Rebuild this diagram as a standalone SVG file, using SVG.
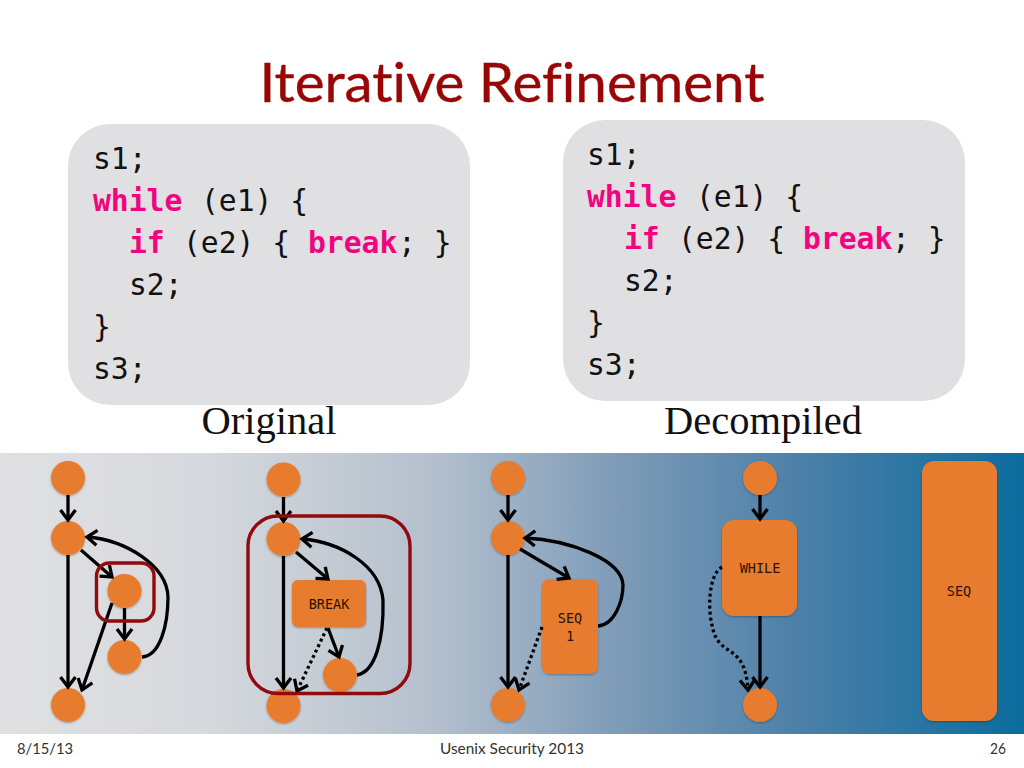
<svg xmlns="http://www.w3.org/2000/svg" width="1024" height="768" viewBox="0 0 1024 768">
<style>
.code{font-family:"DejaVu Sans Mono","Liberation Mono",monospace;font-size:29.7px;fill:#111}
.kw{fill:#f0047f;font-weight:bold}
.cap{font-family:"Liberation Serif",serif;font-size:40.500px;fill:#111;text-anchor:middle}
.foot{font-family:Lato,"Noto Sans",sans-serif;font-size:15px;fill:#333}
.lab{font-family:"DejaVu Sans Mono","Liberation Mono",monospace;font-size:13.500px;fill:#2a1205;text-anchor:middle}
.n{fill:#e87b2f;filter:url(#sh)}
.box{fill:#e0dfe1}
.red{fill:none;stroke:#900a0e;stroke-width:3.400}
.e{fill:none;stroke:#000;stroke-width:3.300;marker-end:url(#ah)}
.d{stroke-dasharray:3 3}
</style>
<defs>
<linearGradient id="bg" x1="0" x2="1" y1="0" y2="0">
<stop offset="0" stop-color="#e0e0e2"/>
<stop offset="0.2" stop-color="#d6d9dd"/>
<stop offset="0.42" stop-color="#b5c0cd"/>
<stop offset="0.6" stop-color="#7f9cb8"/>
<stop offset="0.78" stop-color="#4c80a8"/>
<stop offset="1" stop-color="#0b6c9e"/>
</linearGradient>
<filter id="sh" x="-15%" y="-15%" width="130%" height="130%"><feDropShadow dx="0" dy="1" stdDeviation="1" flood-color="#000" flood-opacity="0.3"/></filter>
<marker id="ah" markerUnits="userSpaceOnUse" markerWidth="20" markerHeight="20" refX="14" refY="10" orient="auto" overflow="visible">
<path d="M4 2.500 L14 10 L4 17.500" fill="none" stroke="#000" stroke-width="3.300" stroke-dasharray="none"/>
</marker>
</defs>
<rect width="1024" height="768" fill="#fff"/>
<text id="title" x="512" y="102" text-anchor="middle" textLength="505" lengthAdjust="spacingAndGlyphs" font-family="Lato,'Noto Sans',sans-serif" font-size="54" fill="#990606" stroke="#990606" stroke-width="0.4" style="font-variant-ligatures:none">Iterative Refinement</text>
<g id="code-original">
<rect class="box" x="68" y="124" width="402" height="281" rx="42"/>
<text class="code" x="93" y="169">s1;</text>
<text class="code" y="211"><tspan x="93" class="kw">while</tspan><tspan x="201">(e1) {</tspan></text>
<text class="code" y="253"><tspan x="129" class="kw">if</tspan><tspan x="183">(e2) {</tspan><tspan x="308" class="kw">break</tspan><tspan x="398">; }</tspan></text>
<text class="code" x="129" y="295">s2;</text>
<text class="code" x="93" y="337">}</text>
<text class="code" x="93" y="379">s3;</text>
</g>
<text id="cap-original" class="cap" x="269" y="434">Original</text>
<g id="code-decompiled">
<rect class="box" x="563" y="120" width="402" height="281" rx="42"/>
<text class="code" x="587" y="165">s1;</text>
<text class="code" y="207"><tspan x="587" class="kw">while</tspan><tspan x="696">(e1) {</tspan></text>
<text class="code" y="249"><tspan x="624" class="kw">if</tspan><tspan x="678">(e2) {</tspan><tspan x="803" class="kw">break</tspan><tspan x="892">; }</tspan></text>
<text class="code" x="624" y="291">s2;</text>
<text class="code" x="587" y="333">}</text>
<text class="code" x="587" y="375">s3;</text>
</g>
<text id="cap-decompiled" class="cap" x="763" y="434">Decompiled</text>
<rect id="band" x="0" y="453" width="1024" height="281" fill="url(#bg)"/>
<g id="nodes">
<g id="g1"><circle class="n" cx="68" cy="478" r="17"/><circle class="n" cx="68" cy="538" r="17"/><circle class="n" cx="124.500" cy="591" r="17"/><circle class="n" cx="124.500" cy="657" r="17"/><circle class="n" cx="68" cy="705" r="17"/></g>
<g id="g2"><circle class="n" cx="283.500" cy="479.500" r="17"/><circle class="n" cx="283.500" cy="539" r="17"/><rect class="n" x="292" y="580" width="74" height="47" rx="6"/><text class="lab" x="329" y="609">BREAK</text><circle class="n" cx="340" cy="675" r="17"/><circle class="n" cx="283.500" cy="706" r="17"/></g>
<g id="g3"><circle class="n" cx="508" cy="478" r="17"/><circle class="n" cx="508" cy="538" r="17"/><rect class="n" x="542" y="579" width="56" height="95" rx="8"/><text class="lab" x="570" y="623">SEQ</text><text class="lab" x="570" y="641">1</text><circle class="n" cx="508" cy="705" r="17"/></g>
<g id="g4"><circle class="n" cx="760" cy="478" r="17"/><rect class="n" x="722" y="520" width="75" height="96" rx="12"/><text class="lab" x="760" y="573">WHILE</text><circle class="n" cx="760" cy="705" r="17"/></g>
<g id="g5"><rect class="n" x="922" y="461" width="75" height="260" rx="12"/><text class="lab" x="959" y="596">SEQ</text></g>
</g>
<g id="connectors">
<path class="e" d="M68 495V520"/><path class="e" d="M68 555V687"/><path class="e" d="M81 550L112 577"/><path class="e" d="M112 603L82 690"/><path class="e" d="M124.500 608V639"/><path class="e" d="M142 657C160 656 168 625 168 597C167 565 125 540 87 537"/>
<path class="e" d="M283.500 497V521"/><path class="e" d="M283.500 556V688"/><path class="e" d="M296 552L328 579"/><path class="e" d="M328 628L339 657"/><path class="e d" d="M327 628L297 691"/><path class="e" d="M357 675C375 672 384 640 383 600C380 565 340 542 302 539"/>
<path class="e" d="M508 495V520"/><path class="e" d="M508 555V687"/><path class="e" d="M520 549L569 578"/><path class="e d" d="M542 627L519 690"/><path class="e" d="M598 626C615 625 623 600 623 585C622 560 570 540 525 538"/>
<path class="e" d="M760 495V519"/><path class="e" d="M760 616V687"/><path class="e d" d="M722 567C708 575 708 610 712 625C718 660 745 640 748 690"/>
<rect class="red" x="96.500" y="563" width="57.500" height="58" rx="13"/>
<rect class="red" x="248" y="516" width="162" height="177.500" rx="30"/>
</g>
<text class="foot" x="17" y="754" textLength="56" lengthAdjust="spacingAndGlyphs">8/15/13</text>
<text class="foot" x="440" y="754" textLength="144" lengthAdjust="spacingAndGlyphs">Usenix Security 2013</text>
<text class="foot" x="990" y="754" textLength="16" lengthAdjust="spacingAndGlyphs">26</text>
</svg>
